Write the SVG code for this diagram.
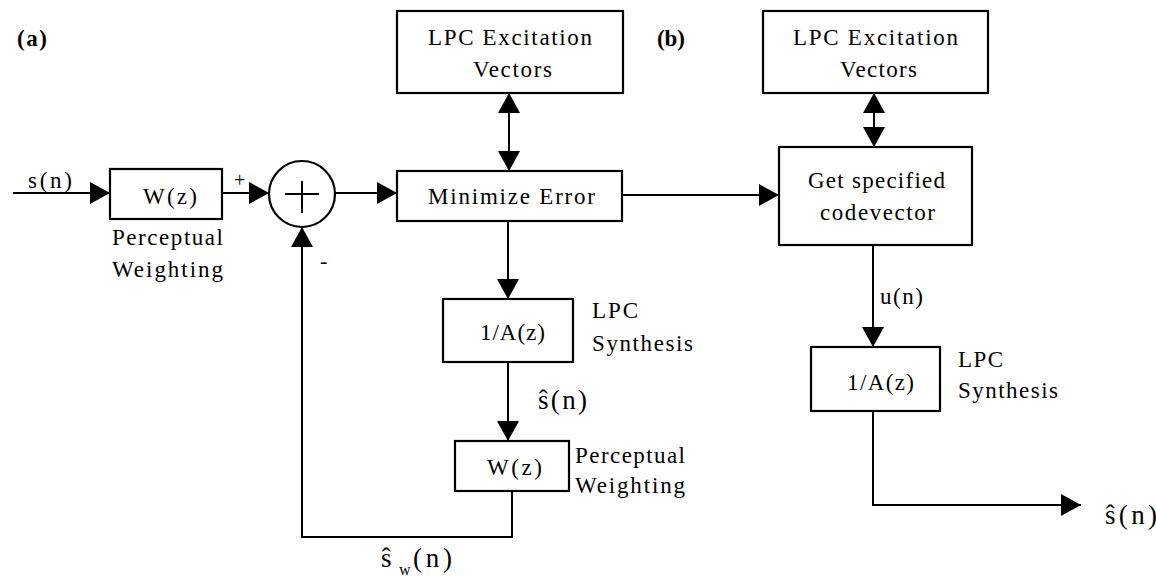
<svg xmlns="http://www.w3.org/2000/svg" width="1156" height="576" viewBox="0 0 1156 576" font-family="'Liberation Serif', 'Times New Roman', serif">
<defs>
<marker id="arr" viewBox="0 0 20 22" refX="20" refY="11" markerWidth="20" markerHeight="22" markerUnits="userSpaceOnUse" orient="auto-start-reverse">
<path d="M0,0 L20,11 L0,22 Z" fill="#000"/>
</marker>
<style>
.box{fill:#fff;stroke:#000;stroke-width:2.2}
.ln{fill:none;stroke:#000;stroke-width:2}
text{font-family:'Liberation Serif','Times New Roman',serif;font-size:23px;fill:#000}
.b{font-weight:bold}
.big{font-size:27px}
.sub{font-size:16px}
</style>
</defs>
<rect width="1156" height="576" fill="#fff"/>
<g id="connectors">
<line class="ln" x1="13" y1="193" x2="110" y2="193" marker-end="url(#arr)"/>
<line class="ln" x1="222" y1="193" x2="269" y2="193" marker-end="url(#arr)"/>
<line class="ln" x1="335" y1="193" x2="397" y2="193" marker-end="url(#arr)"/>
<line class="ln" x1="509" y1="93" x2="509" y2="171" marker-start="url(#arr)" marker-end="url(#arr)"/>
<line class="ln" x1="508" y1="221" x2="508" y2="299" marker-end="url(#arr)"/>
<line class="ln" x1="508" y1="362" x2="508" y2="441" marker-end="url(#arr)"/>
<polyline class="ln" points="512,491 512,537 302,537 302,227" marker-end="url(#arr)"/>
<line class="ln" x1="622" y1="195" x2="779" y2="195" marker-end="url(#arr)"/>
<line class="ln" x1="874" y1="93" x2="874" y2="147" marker-start="url(#arr)" marker-end="url(#arr)"/>
<line class="ln" x1="873" y1="245" x2="873" y2="347" marker-end="url(#arr)"/>
<polyline class="ln" points="873,411 873,505 1081,505" marker-end="url(#arr)"/>
</g>
<g id="labels">
<text class="b" x="17" y="46" textLength="30" lengthAdjust="spacing">(a)</text>
<text class="b" x="657" y="46" textLength="28" lengthAdjust="spacing">(b)</text>
<text x="28" y="188" textLength="44" lengthAdjust="spacing">s(n)</text>
<text x="234" y="187" style="font-size:20px">+</text>
<text x="320" y="268" style="font-size:22px">-</text>
<text x="538" y="409" class="big" textLength="49" lengthAdjust="spacing">ŝ(n)</text>
<text x="381" y="567" class="big">ŝ</text>
<text x="399" y="575" class="sub">w</text>
<text x="413" y="567" class="big" textLength="39" lengthAdjust="spacing">(n)</text>
<text x="880" y="304" textLength="43" lengthAdjust="spacing">u(n)</text>
<text x="1105" y="524" class="big" textLength="52" lengthAdjust="spacing">ŝ(n)</text>
</g>
<g id="w1">
<rect class="box" x="110" y="169" width="112" height="50"/>
<text x="143" y="204" textLength="54" lengthAdjust="spacing">W(z)</text>
<text x="112" y="245" textLength="111" lengthAdjust="spacing">Perceptual</text>
<text x="112" y="277" textLength="111" lengthAdjust="spacing">Weighting</text>
</g>
<g id="sum">
<circle cx="302" cy="194" r="33" fill="#fff" stroke="#000" stroke-width="2.2"/>
<line class="ln" x1="285" y1="194" x2="319" y2="194"/>
<line class="ln" x1="302" y1="181" x2="302" y2="213"/>
</g>
<g id="lpc1">
<rect class="box" x="397" y="11" width="226" height="82"/>
<text x="428" y="45" textLength="164" lengthAdjust="spacing">LPC Excitation</text>
<text x="473" y="77" textLength="79" lengthAdjust="spacing">Vectors</text>
</g>
<g id="minerr">
<rect class="box" x="397" y="171" width="225" height="50"/>
<text x="428" y="204" textLength="167" lengthAdjust="spacing">Minimize Error</text>
</g>
<g id="syn1">
<rect class="box" x="443" y="299" width="130" height="63"/>
<text x="480" y="340" textLength="65" lengthAdjust="spacing">1/A(z)</text>
<text x="592" y="318" textLength="46" lengthAdjust="spacing">LPC</text>
<text x="592" y="351" textLength="101" lengthAdjust="spacing">Synthesis</text>
</g>
<g id="w2">
<rect class="box" x="455" y="441" width="114" height="50"/>
<text x="487" y="475" textLength="55" lengthAdjust="spacing">W(z)</text>
<text x="575" y="463" textLength="110" lengthAdjust="spacing">Perceptual</text>
<text x="575" y="493" textLength="110" lengthAdjust="spacing">Weighting</text>
</g>
<g id="lpc2">
<rect class="box" x="763" y="11" width="225" height="82"/>
<text x="793" y="45" textLength="165" lengthAdjust="spacing">LPC Excitation</text>
<text x="840" y="77" textLength="77" lengthAdjust="spacing">Vectors</text>
</g>
<g id="getcv">
<rect class="box" x="779" y="147" width="193" height="98"/>
<text x="808" y="188" textLength="137" lengthAdjust="spacing">Get specified</text>
<text x="820" y="220" textLength="115" lengthAdjust="spacing">codevector</text>
</g>
<g id="syn2">
<rect class="box" x="811" y="347" width="129" height="64"/>
<text x="847" y="390" textLength="67" lengthAdjust="spacing">1/A(z)</text>
<text x="958" y="367" textLength="45" lengthAdjust="spacing">LPC</text>
<text x="958" y="398" textLength="100" lengthAdjust="spacing">Synthesis</text>
</g>
</svg>
